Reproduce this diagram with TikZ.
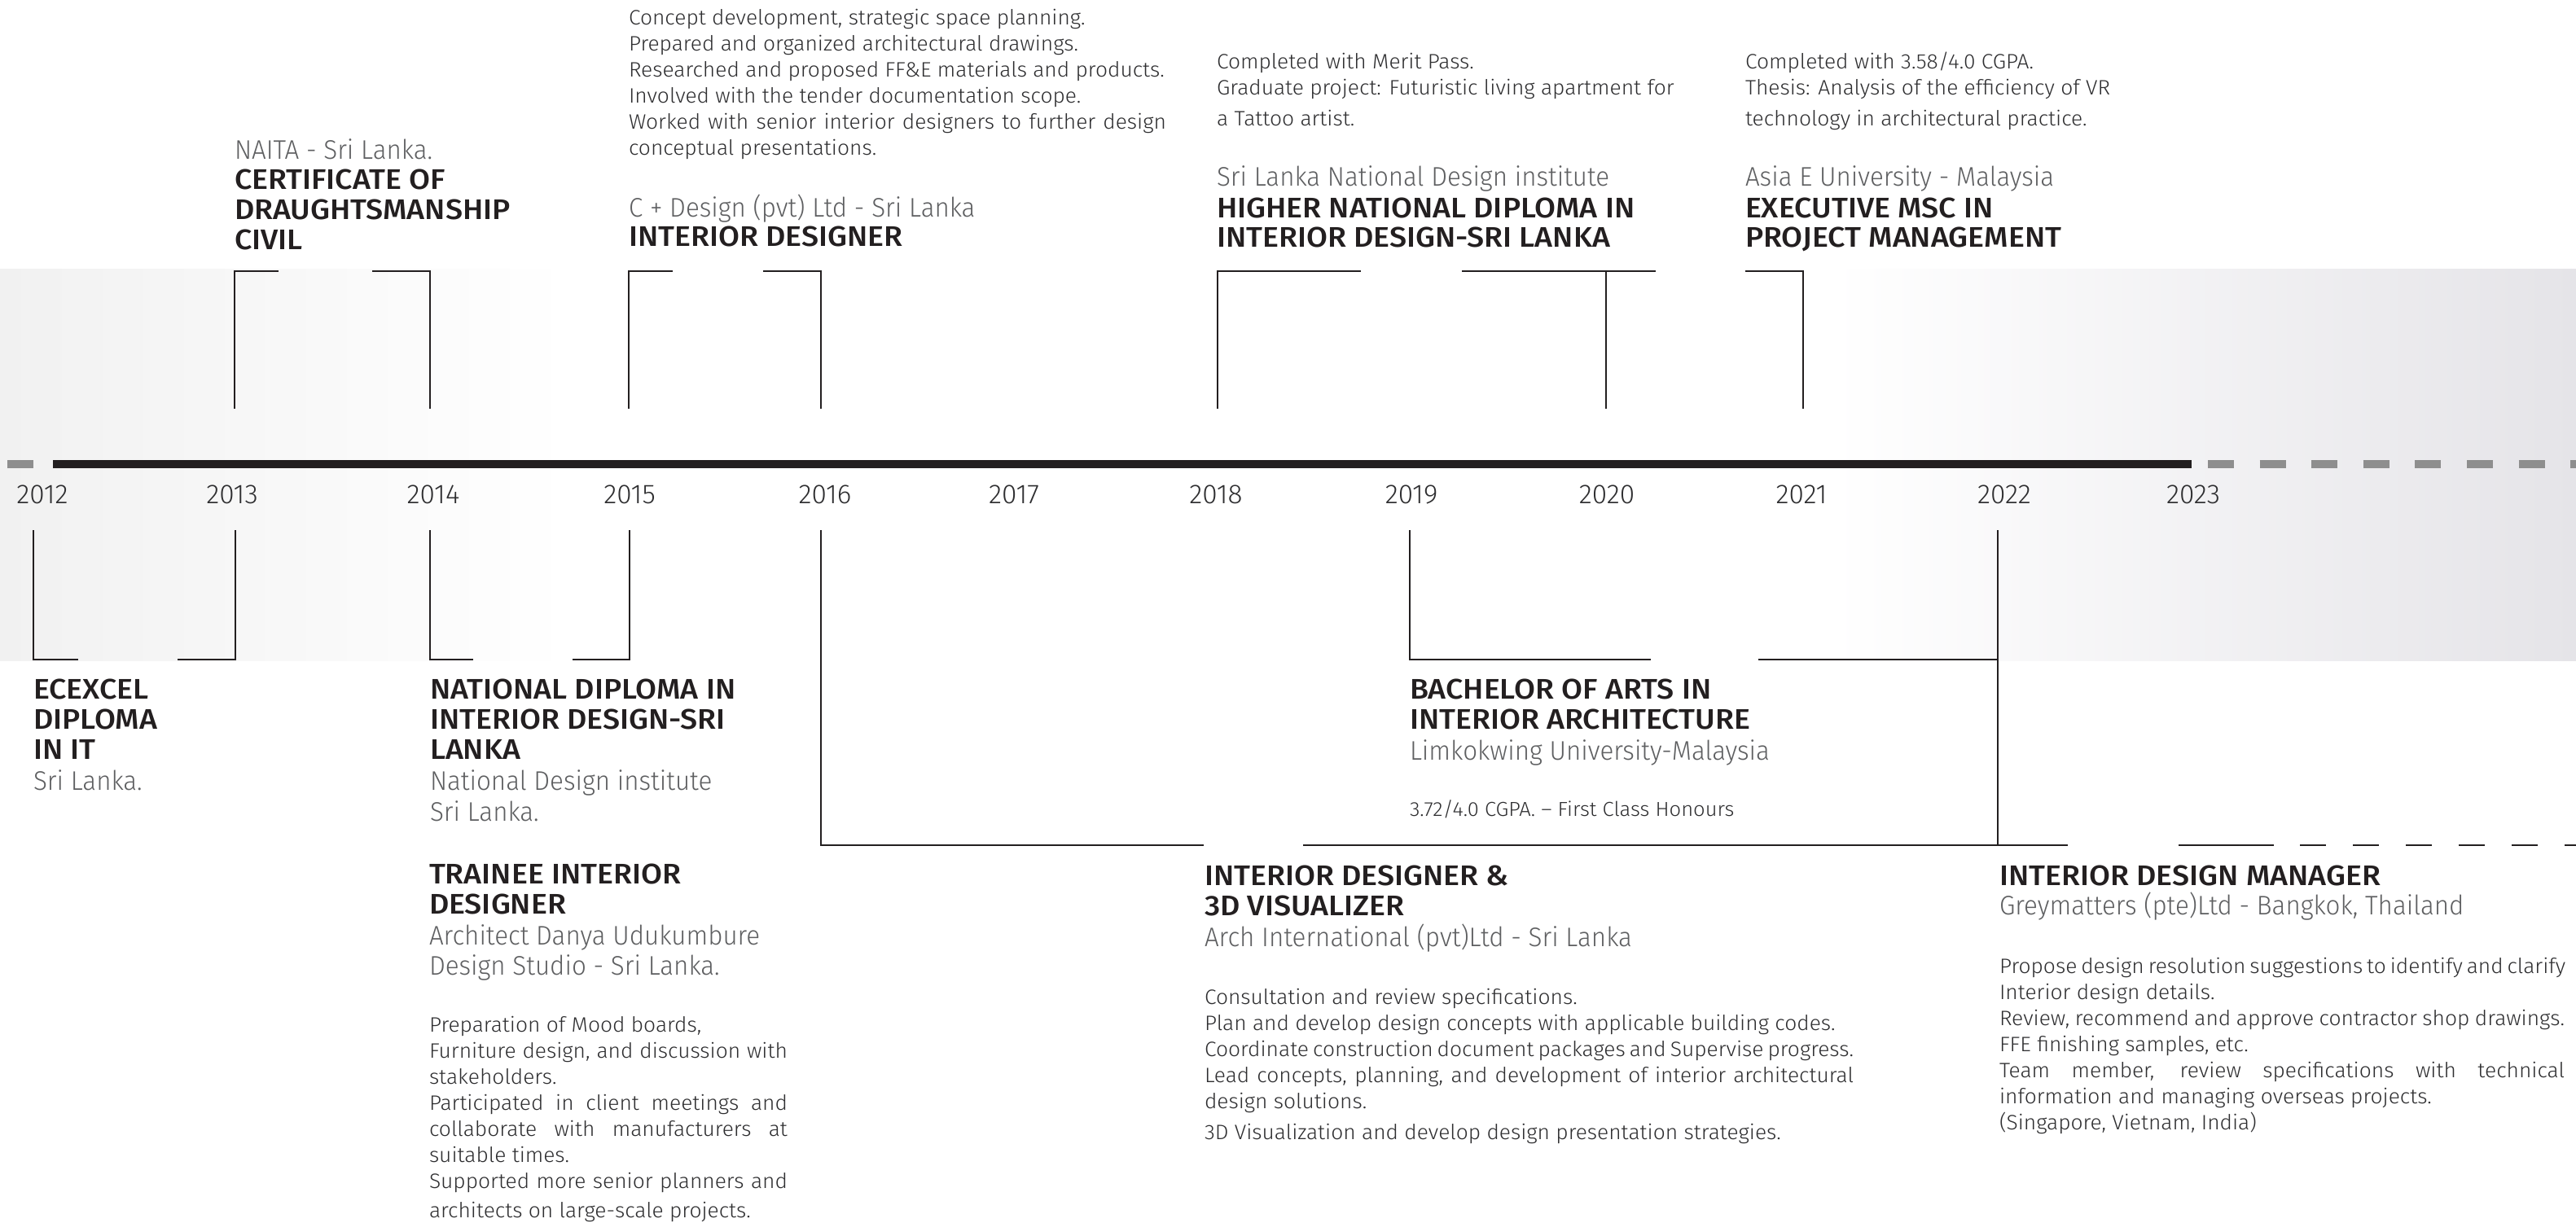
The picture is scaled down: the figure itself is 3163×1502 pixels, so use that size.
\documentclass[tikz,border=0pt]{standalone}
\usepackage{fontspec}
\setmainfont{Fira Sans}
\newfontfamily\hdf[FakeStretch=1.08]{Fira Sans Medium}
\newfontfamily\ltf[FakeStretch=0.95]{Fira Sans Light}
\newfontfamily\yrf{Fira Sans Light}
\newfontfamily\bkf[FakeStretch=1.03]{Fira Sans Light}
\definecolor{ink}{HTML}{231F20}
\definecolor{subg}{HTML}{5E5F61}
\definecolor{bodyg}{HTML}{2E2E30}
\definecolor{dashg}{HTML}{8E8E8E}
\definecolor{bandL}{HTML}{F1F1F1}
\definecolor{bandR}{HTML}{E5E4E8}
\newcommand\blk[2]{\vtop{\hsize=1200pt\relax\parindent=0pt\parskip=0pt\rightskip=0pt plus 1fil\baselineskip=#1\relax\lineskip=0pt\lineskiplimit=-50pt #2\par}}
\newcommand\nl{\par}
\newcommand\jl[2]{\makebox[#1][s]{#2}}
\tikzset{
  hd/.style={anchor=base west, inner sep=0pt, outer sep=0pt, text=ink, font=\hdf\fontsize{17.4pt}{18.5pt}\selectfont},
  sub/.style={anchor=base west, inner sep=0pt, outer sep=0pt, text=subg, font=\ltf\fontsize{16.5pt}{18.5pt}\selectfont},
  bd/.style={anchor=base west, inner sep=0pt, outer sep=0pt, text=bodyg, font=\bkf\fontsize{12.8pt}{16pt}\selectfont},
  sm/.style={anchor=base west, inner sep=0pt, outer sep=0pt, text=bodyg, font=\bkf\fontsize{12.4pt}{15pt}\selectfont},
  yr/.style={anchor=base, inner sep=0pt, outer sep=0pt, text=bodyg, font=\yrf\fontsize{16.7pt}{18pt}\selectfont},
  conn/.style={draw=ink, line width=1.3pt, line join=miter, line cap=butt},
  bar/.style={line width=5pt, line cap=butt}
}
\begin{document}
\begin{tikzpicture}[x=0.5pt,y=-0.5pt]
\useasboundingbox (0,0) rectangle (3163,1502);
\fill[white] (0,0) rectangle (3163,1502);
% background band
\shade[left color=bandL, right color=white] (0,331) rectangle (700,811);
\shade[left color=white, right color=bandR] (2250,331) rectangle (3163,811);

% timeline
\coordinate (gs1) at (9,570); \coordinate (gs2) at (41,570);
\coordinate (tlA) at (65,570); \coordinate (tlB) at (2691,570);
\coordinate (tlC) at (2711,570); \coordinate (tlD) at (3163,570);
\draw[bar, dashg] (gs1) -- (gs2);
\draw[bar, ink] (tlA) -- (tlB);
\draw[bar, dashg, dash pattern=on 16pt off 15.8pt] (tlC) -- (tlD);

% years
\node[yr] (y2012) at (52,618) {2012};
\node[yr] (y2013) at (285,618) {2013};
\node[yr] (y2014) at (532,618) {2014};
\node[yr] (y2015) at (773,618) {2015};
\node[yr] (y2016) at (1013,618) {2016};
\node[yr] (y2017) at (1245,618) {2017};
\node[yr] (y2018) at (1493,618) {2018};
\node[yr] (y2019) at (1733,618) {2019};
\node[yr] (y2020) at (1973,618) {2020};
\node[yr] (y2021) at (2212,618) {2021};
\node[yr] (y2022) at (2461,618) {2022};
\node[yr] (y2023) at (2693,618) {2023};

% ---------- top brackets ----------
\coordinate (a1) at (288,502); \coordinate (a2) at (288,333); \coordinate (a3) at (342,333);
\coordinate (a4) at (457,333); \coordinate (a5) at (528,333); \coordinate (a6) at (528,502);
\draw[conn] (a1) -- (a2) -- (a3);
\draw[conn] (a4) -- (a5) -- (a6);
\coordinate (b1) at (772,502); \coordinate (b2) at (772,333); \coordinate (b3) at (826,333);
\coordinate (b4) at (937,333); \coordinate (b5) at (1008,333); \coordinate (b6) at (1008,502);
\draw[conn] (b1) -- (b2) -- (b3);
\draw[conn] (b4) -- (b5) -- (b6);
\coordinate (c1) at (1495,502); \coordinate (c2) at (1495,333); \coordinate (c3) at (1671,333);
\coordinate (c4) at (1795,333); \coordinate (c5) at (2033,333);
\coordinate (c6) at (1972,333); \coordinate (c7) at (1972,502);
\draw[conn] (c1) -- (c2) -- (c3);
\draw[conn] (c4) -- (c5);
\draw[conn] (c6) -- (c7);
\coordinate (d1) at (2143,333); \coordinate (d2) at (2214,333); \coordinate (d3) at (2214,502);
\draw[conn] (d1) -- (d2) -- (d3);

% ---------- bottom brackets ----------
\coordinate (e1) at (41,651); \coordinate (e2) at (41,810); \coordinate (e3) at (96,810);
\coordinate (e4) at (218,810); \coordinate (e5) at (289,810); \coordinate (e6) at (289,651);
\draw[conn] (e1) -- (e2) -- (e3);
\draw[conn] (e4) -- (e5) -- (e6);
\coordinate (f1) at (528,651); \coordinate (f2) at (528,810); \coordinate (f3) at (581,810);
\coordinate (f4) at (703,810); \coordinate (f5) at (773,810); \coordinate (f6) at (773,651);
\draw[conn] (f1) -- (f2) -- (f3);
\draw[conn] (f4) -- (f5) -- (f6);
\coordinate (h1) at (1731,651); \coordinate (h2) at (1731,810); \coordinate (h3) at (2027,810);
\coordinate (h4) at (2159,810); \coordinate (h5) at (2453,810);
\coordinate (h6) at (2453,651); \coordinate (h7) at (2453,1038);
\draw[conn] (h1) -- (h2) -- (h3);
\draw[conn] (h4) -- (h5);
\draw[conn] (h6) -- (h7);
\coordinate (g1) at (1008,651); \coordinate (g2) at (1008,1038); \coordinate (g3) at (1478,1038);
\coordinate (g4) at (1600,1038); \coordinate (g5) at (2539,1038);
\coordinate (g6) at (2675,1038); \coordinate (g7) at (2792,1038);
\coordinate (g8) at (2824,1038); \coordinate (g9) at (3163,1038);
\draw[conn] (g1) -- (g2) -- (g3);
\draw[conn] (g4) -- (g5);
\draw[conn] (g6) -- (g7);
\draw[conn, dash pattern=on 16pt off 16.5pt] (g8) -- (g9);

% ---------- top texts ----------
\node[sub] (naitaS) at (288,196) {NAITA - Sri Lanka.};
\node[hd] (naitaH) at (288,233) {\blk{18.5pt}{CERTIFICATE OF\nl DRAUGHTSMANSHIP\nl CIVIL}};

\node[bd] (cdB) at (772,31) {\blk{16pt}{Concept development, strategic space planning.\nl
Prepared and organized architectural drawings.\nl
Researched and proposed FF\&E materials and products.\nl
Involved with the tender documentation scope.\nl
\jl{330pt}{Worked with senior interior designers to further design}\nl
conceptual presentations.}};
\node[sub] (cdS) at (772,267) {C + Design (pvt) Ltd - Sri Lanka};
\node[hd] (cdH) at (772,303) {INTERIOR DESIGNER};

\node[bd] (hndB) at (1494,85) {\blk{16pt}{Completed with Merit Pass.\nl
Graduate project: Futuristic living apartment for\nl\vskip3pt
a Tattoo artist.}};
\node[sub] (hndS) at (1494,229) {Sri Lanka National Design institute};
\node[hd] (hndH) at (1494,268) {\blk{18pt}{HIGHER NATIONAL DIPLOMA IN\nl INTERIOR DESIGN-SRI LANKA}};

\node[bd] (mscB) at (2143,85) {\blk{16pt}{Completed with 3.58/4.0 CGPA.\nl
Thesis: Analysis of the efficiency of VR\nl\vskip3pt
technology in architectural practice.}};
\node[sub] (mscS) at (2143,229) {Asia E University - Malaysia};
\node[hd] (mscH) at (2143,268) {\blk{18pt}{EXECUTIVE MSC IN\nl PROJECT MANAGEMENT}};

% ---------- bottom texts ----------
\node[hd] (ecH) at (41,858) {\blk{18.5pt}{ECEXCEL\nl DIPLOMA\nl IN IT}};
\node[sub] (ecS) at (41,970) {Sri Lanka.};

\node[hd] (ndH) at (528,858) {\blk{18.5pt}{NATIONAL DIPLOMA IN\nl INTERIOR DESIGN-SRI\nl LANKA}};
\node[sub] (ndS) at (528,970) {\blk{19pt}{National Design institute\nl Sri Lanka.}};

\node[hd] (trH) at (527,1085) {\blk{18.5pt}{TRAINEE INTERIOR\nl DESIGNER}};
\node[sub] (trS) at (527,1160) {\blk{18.5pt}{Architect Danya Udukumbure\nl Design Studio - Sri Lanka.}};
\node[bd] (trB) at (527,1267) {\blk{16pt}{Preparation of Mood boards,\nl
\jl{220pt}{Furniture design, and discussion with}\nl
stakeholders.\nl
\jl{220pt}{Participated in client meetings and}\nl
\jl{220pt}{collaborate with manufacturers at}\nl
suitable times.\nl
\jl{220pt}{Supported more senior planners and}\nl\vskip2pt
architects on large-scale projects.}};

\node[hd] (baH) at (1731,858) {\blk{18.5pt}{BACHELOR OF ARTS IN\nl INTERIOR ARCHITECTURE}};
\node[sub] (baS) at (1731,933) {Limkokwing University-Malaysia};
\node[sm] (baB) at (1731,1002) {3.72/4.0 CGPA. – First Class Honours};

\node[hd] (idH) at (1479,1087) {\blk{18.5pt}{INTERIOR DESIGNER \&\nl 3D VISUALIZER}};
\node[sub] (idS) at (1479,1162) {Arch International (pvt)Ltd - Sri Lanka};
\node[bd] (idB) at (1479,1233) {\blk{16pt}{Consultation and review specifications.\nl
Plan and develop design concepts with applicable building codes.\nl
\jl{398.5pt}{Coordinate construction document packages and Supervise progress.}\nl
\jl{398.5pt}{Lead concepts, planning, and development of interior architectural}\nl
design solutions.\nl\vskip3pt
3D Visualization and develop design presentation strategies.}};

\node[hd] (mgH) at (2455,1087) {INTERIOR DESIGN MANAGER};
\node[sub] (mgS) at (2455,1123) {Greymatters (pte)Ltd - Bangkok, Thailand};
\node[bd] (mgB) at (2455,1195) {\blk{16pt}{\jl{347pt}{Propose design resolution suggestions to identify and clarify}\nl
Interior design details.\nl
\jl{347pt}{Review, recommend and approve contractor shop drawings.}\nl
FFE finishing samples, etc.\nl
\jl{347pt}{Team member, review specifications with technical}\nl
information and managing overseas projects.\nl
(Singapore, Vietnam, India)}};
\end{tikzpicture}
\end{document}
